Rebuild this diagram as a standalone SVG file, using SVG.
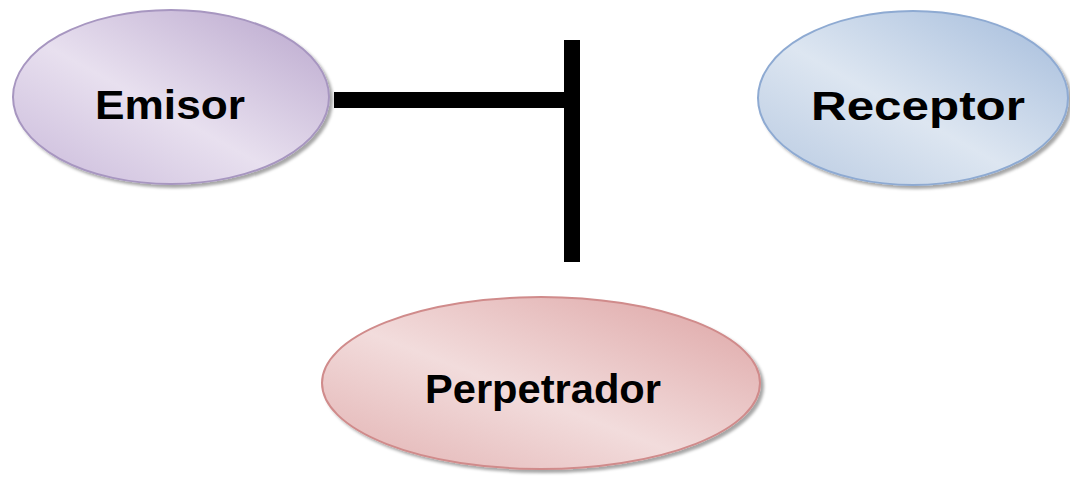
<svg xmlns="http://www.w3.org/2000/svg" width="1070" height="480" viewBox="0 0 1070 480">
<defs>
<linearGradient id="gP" x1="0" y1="1" x2="1" y2="0">
<stop offset="0" stop-color="#c9b9da"/><stop offset="0.45" stop-color="#e8e0ef"/><stop offset="1" stop-color="#b8a5cc"/>
</linearGradient>
<linearGradient id="gB" x1="0" y1="1" x2="1" y2="0">
<stop offset="0" stop-color="#b7c9e1"/><stop offset="0.45" stop-color="#dde6f1"/><stop offset="1" stop-color="#a3bbdb"/>
</linearGradient>
<linearGradient id="gR" x1="0" y1="1" x2="1" y2="0">
<stop offset="0" stop-color="#e2b1b1"/><stop offset="0.45" stop-color="#f2dcdc"/><stop offset="1" stop-color="#dda3a3"/>
</linearGradient>
<filter id="sh" x="-10%" y="-10%" width="125%" height="130%">
<feDropShadow dx="3" dy="3" stdDeviation="1.5" flood-color="#000" flood-opacity="0.35"/>
</filter>
<style>
.lbl{font-family:"Liberation Sans",Arial,sans-serif;font-weight:bold;font-size:40px;fill:#000;text-anchor:middle}
.bar{fill:#000}
</style>
</defs>
<g id="connectors">
<rect class="bar" x="334" y="92" width="238" height="16"/>
<rect class="bar" x="564" y="40" width="16" height="222"/>
</g>
<g id="emisor">
<ellipse cx="171" cy="97" rx="158" ry="87" fill="url(#gP)" stroke="#a796c0" stroke-width="2" filter="url(#sh)"/>
<text class="lbl" x="170" y="119" textLength="150" lengthAdjust="spacingAndGlyphs">Emisor</text>
</g>
<g id="receptor">
<ellipse cx="913" cy="98" rx="155" ry="87" fill="url(#gB)" stroke="#8eaad2" stroke-width="2" filter="url(#sh)"/>
<text class="lbl" x="918" y="120" textLength="214" lengthAdjust="spacingAndGlyphs">Receptor</text>
</g>
<g id="perpetrador">
<ellipse cx="541" cy="383" rx="219" ry="86" fill="url(#gR)" stroke="#d08b8b" stroke-width="2" filter="url(#sh)"/>
<text class="lbl" x="543" y="403" textLength="236" lengthAdjust="spacingAndGlyphs">Perpetrador</text>
</g>
</svg>
